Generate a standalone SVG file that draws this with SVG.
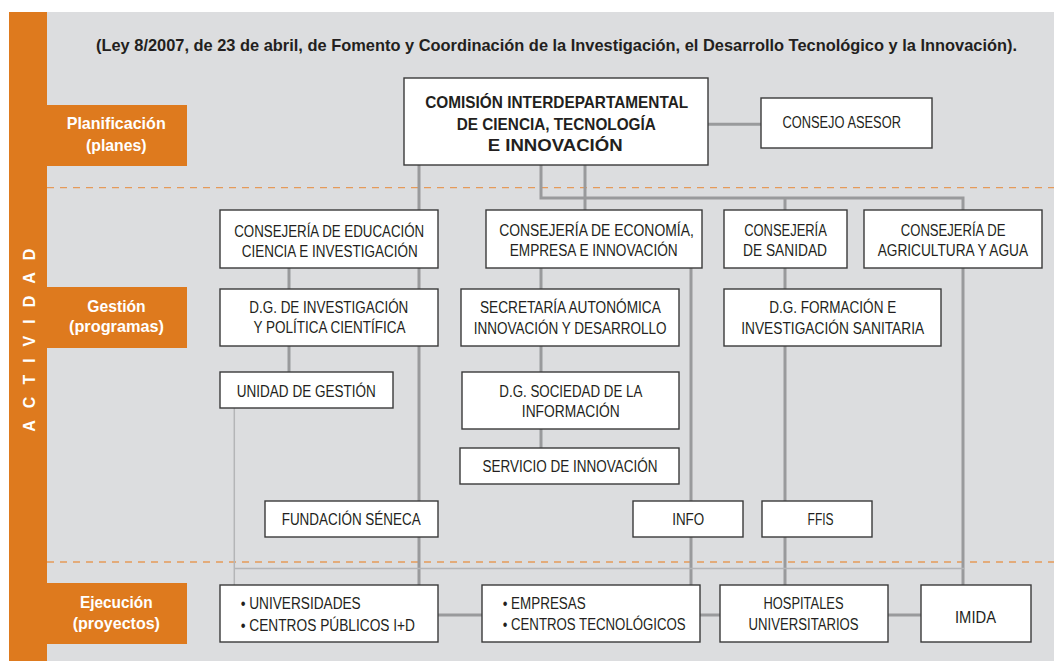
<svg xmlns="http://www.w3.org/2000/svg" width="1054" height="661" viewBox="0 0 1054 661">
<style>
.bg{fill:#dcdddf}
.or{fill:#de7a1e}
.box{fill:#ffffff;stroke:#3a3a3a;stroke-width:1.4}
.t{font-family:"Liberation Sans",Arial,sans-serif;font-size:16px;fill:#231f20;text-anchor:middle}
.ts{font-family:"Liberation Sans",Arial,sans-serif;font-size:16px;fill:#231f20;text-anchor:start}
.tb{font-family:"Liberation Sans",Arial,sans-serif;font-size:16.5px;font-weight:bold;fill:#231f20;text-anchor:middle}
.lab{font-family:"Liberation Sans",Arial,sans-serif;font-size:17px;font-weight:bold;fill:#ffffff;text-anchor:middle}
.dash{stroke:#e59a5a;stroke-width:1.3;stroke-dasharray:7 6;fill:none}
.c{stroke:#999a9c;stroke-width:3;fill:none}
.thin{stroke:#b4b5b7;stroke-width:1.5;fill:none}
</style>
<rect x="0" y="0" width="1054" height="661" fill="#ffffff"/>
<rect class="bg" x="47" y="12" width="1007" height="649"/>
<rect class="or" x="9" y="12" width="38" height="649"/>
<g id="title">
<text class="tb" x="556.5" y="50.5" textLength="921" lengthAdjust="spacingAndGlyphs" style="font-size:17px">(Ley 8/2007, de 23 de abril, de Fomento y Coordinación de la Investigación, el Desarrollo Tecnológico y la Innovación).</text>
</g>
<g id="actividad">
<text transform="translate(34.5,431.7) rotate(-90)" font-family="Liberation Sans, Arial, sans-serif" font-size="16" font-weight="bold" fill="#ffffff" textLength="183" lengthAdjust="spacing">ACTIVIDAD</text>
</g>
<g id="dashed-lines">
<line class="dash" x1="47" y1="187.7" x2="1054" y2="187.7"/>
<line class="dash" x1="47" y1="562" x2="1054" y2="562"/>
</g>
<g id="label-planificacion">
<rect class="or" x="47" y="105" width="140" height="61"/>
<text class="lab" x="116.2" y="129" textLength="99" lengthAdjust="spacingAndGlyphs">Planificación</text>
<text class="lab" x="116.3" y="150.5" textLength="60.7" lengthAdjust="spacingAndGlyphs">(planes)</text>
</g>
<g id="label-gestion">
<rect class="or" x="47" y="287" width="140" height="61"/>
<text class="lab" x="116.5" y="311.7" textLength="58.3" lengthAdjust="spacingAndGlyphs">Gestión</text>
<text class="lab" x="116.5" y="331.7" textLength="95" lengthAdjust="spacingAndGlyphs">(programas)</text>
</g>
<g id="label-ejecucion">
<rect class="or" x="47" y="583" width="140" height="61"/>
<text class="lab" x="116.3" y="608.3" textLength="72.7" lengthAdjust="spacingAndGlyphs">Ejecución</text>
<text class="lab" x="116.3" y="629" textLength="87.3" lengthAdjust="spacingAndGlyphs">(proyectos)</text>
</g>
<g id="connectors">
<line class="c" x1="419" y1="165" x2="419" y2="585"/>
<line class="c" x1="289" y1="268" x2="289" y2="372"/>
<polyline class="c" points="541,165 541,198 963,198 963,585"/>
<line class="c" x1="785" y1="198" x2="785" y2="585"/>
<line class="c" x1="585" y1="165" x2="585" y2="210"/>
<line class="c" x1="541" y1="268" x2="541" y2="448"/>
<line class="c" x1="691" y1="268" x2="691" y2="585"/>
<line class="c" x1="708" y1="124.3" x2="761" y2="124.3"/>
<line class="c" x1="438" y1="615" x2="921" y2="615"/>
<polyline class="thin" points="234.3,408 234.3,585"/>
<line class="thin" x1="234.3" y1="568.5" x2="964" y2="568.5"/>
</g>
<g id="comision">
<rect class="box" x="404" y="78" width="304" height="87"/>
<text class="tb" x="556.7" y="108.3" textLength="263" lengthAdjust="spacingAndGlyphs">COMISIÓN INTERDEPARTAMENTAL</text>
<text class="tb" x="556.3" y="130" textLength="199" lengthAdjust="spacingAndGlyphs">DE CIENCIA, TECNOLOGÍA</text>
<text class="tb" x="555.2" y="151" textLength="135" lengthAdjust="spacingAndGlyphs">E INNOVACIÓN</text>
</g>
<g id="consejo-asesor">
<rect class="box" x="761" y="98" width="171" height="50"/>
<text class="t" x="841.7" y="128.3" textLength="118.5" lengthAdjust="spacingAndGlyphs">CONSEJO ASESOR</text>
</g>
<g id="consejeria-educacion">
<rect class="box" x="220" y="210" width="218" height="58"/>
<text class="t" x="329.2" y="236.7" textLength="190" lengthAdjust="spacingAndGlyphs">CONSEJERÍA DE EDUCACIÓN</text>
<text class="t" x="329.7" y="256.7" textLength="176" lengthAdjust="spacingAndGlyphs">CIENCIA E INVESTIGACIÓN</text>
</g>
<g id="consejeria-economia">
<rect class="box" x="486" y="210" width="216" height="58"/>
<text class="t" x="596.5" y="236" textLength="194.6" lengthAdjust="spacingAndGlyphs">CONSEJERÍA DE ECONOMÍA,</text>
<text class="t" x="593.7" y="256" textLength="168" lengthAdjust="spacingAndGlyphs">EMPRESA E INNOVACIÓN</text>
</g>
<g id="consejeria-sanidad">
<rect class="box" x="724" y="210" width="123" height="58"/>
<text class="t" x="785.5" y="236" textLength="82.7" lengthAdjust="spacingAndGlyphs">CONSEJERÍA</text>
<text class="t" x="785" y="256" textLength="84" lengthAdjust="spacingAndGlyphs">DE SANIDAD</text>
</g>
<g id="consejeria-agricultura">
<rect class="box" x="864" y="210" width="178" height="58"/>
<text class="t" x="953.1" y="236" textLength="104.6" lengthAdjust="spacingAndGlyphs">CONSEJERÍA DE</text>
<text class="t" x="952.9" y="256" textLength="150.4" lengthAdjust="spacingAndGlyphs">AGRICULTURA Y AGUA</text>
</g>
<g id="dg-investigacion">
<rect class="box" x="220" y="289" width="218" height="57"/>
<text class="t" x="328.8" y="312.7" textLength="159" lengthAdjust="spacingAndGlyphs">D.G. DE INVESTIGACIÓN</text>
<text class="t" x="329.5" y="333.3" textLength="152" lengthAdjust="spacingAndGlyphs">Y POLÍTICA CIENTÍFICA</text>
</g>
<g id="secretaria">
<rect class="box" x="461" y="289" width="218" height="57"/>
<text class="t" x="570.4" y="312.7" textLength="180.8" lengthAdjust="spacingAndGlyphs">SECRETARÍA AUTONÓMICA</text>
<text class="t" x="570.2" y="333.5" textLength="192.7" lengthAdjust="spacingAndGlyphs">INNOVACIÓN Y DESARROLLO</text>
</g>
<g id="dg-formacion">
<rect class="box" x="724" y="289" width="217" height="57"/>
<text class="t" x="832.7" y="312.7" textLength="127" lengthAdjust="spacingAndGlyphs">D.G. FORMACIÓN E</text>
<text class="t" x="832.7" y="333.5" textLength="183" lengthAdjust="spacingAndGlyphs">INVESTIGACIÓN SANITARIA</text>
</g>
<g id="unidad-gestion">
<rect class="box" x="220" y="372" width="173" height="36"/>
<text class="t" x="306.3" y="396.7" textLength="139" lengthAdjust="spacingAndGlyphs">UNIDAD DE GESTIÓN</text>
</g>
<g id="dg-sociedad">
<rect class="box" x="462" y="372" width="217" height="57"/>
<text class="t" x="570.8" y="396.7" textLength="143" lengthAdjust="spacingAndGlyphs">D.G. SOCIEDAD DE LA</text>
<text class="t" x="570.8" y="416.7" textLength="98" lengthAdjust="spacingAndGlyphs">INFORMACIÓN</text>
</g>
<g id="servicio-innovacion">
<rect class="box" x="460" y="448" width="219" height="36"/>
<text class="t" x="570" y="471.7" textLength="175" lengthAdjust="spacingAndGlyphs">SERVICIO DE INNOVACIÓN</text>
</g>
<g id="fundacion-seneca">
<rect class="box" x="265" y="501" width="173" height="36"/>
<text class="t" x="351.2" y="525" textLength="139" lengthAdjust="spacingAndGlyphs">FUNDACIÓN SÉNECA</text>
</g>
<g id="info">
<rect class="box" x="633" y="501" width="110" height="36"/>
<text class="t" x="688.2" y="524.8" textLength="32" lengthAdjust="spacingAndGlyphs">INFO</text>
</g>
<g id="ffis">
<rect class="box" x="762" y="501" width="110" height="36"/>
<text class="t" x="820.6" y="525" textLength="26" lengthAdjust="spacingAndGlyphs">FFIS</text>
</g>
<g id="universidades">
<rect class="box" x="220" y="585" width="218" height="57"/>
<text class="ts" x="240.7" y="609" textLength="120" lengthAdjust="spacingAndGlyphs">• UNIVERSIDADES</text>
<text class="ts" x="240.7" y="630.5" textLength="174.3" lengthAdjust="spacingAndGlyphs">• CENTROS PÚBLICOS I+D</text>
</g>
<g id="empresas">
<rect class="box" x="482" y="585" width="218" height="57"/>
<text class="ts" x="502.7" y="609" textLength="83" lengthAdjust="spacingAndGlyphs">• EMPRESAS</text>
<text class="ts" x="502.7" y="630" textLength="183" lengthAdjust="spacingAndGlyphs">• CENTROS TECNOLÓGICOS</text>
</g>
<g id="hospitales">
<rect class="box" x="720" y="585" width="168" height="57"/>
<text class="t" x="803.5" y="609" textLength="80" lengthAdjust="spacingAndGlyphs">HOSPITALES</text>
<text class="t" x="803.6" y="630" textLength="110" lengthAdjust="spacingAndGlyphs">UNIVERSITARIOS</text>
</g>
<g id="imida">
<rect class="box" x="921" y="585" width="110" height="57"/>
<text class="t" x="975.5" y="622.7" textLength="41" lengthAdjust="spacingAndGlyphs">IMIDA</text>
</g>
</svg>
